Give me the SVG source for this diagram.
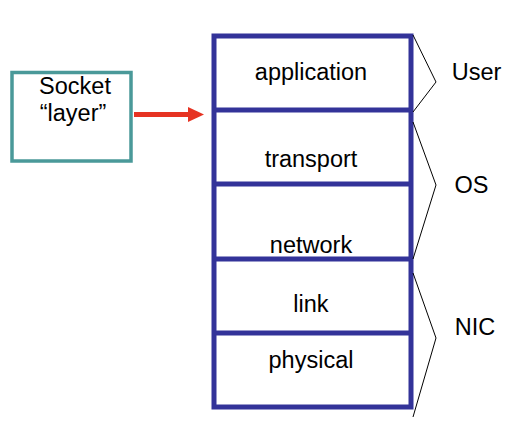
<svg xmlns="http://www.w3.org/2000/svg" width="514" height="424" viewBox="0 0 514 424">
<style>
text{font-family:"Liberation Sans",Arial,sans-serif;font-size:23.5px;fill:#000;text-anchor:middle}
.layer{fill:#fff;stroke:#333399;stroke-width:5}
.brace{fill:none;stroke:#000;stroke-width:1}
</style>
<rect width="514" height="424" fill="#fff"/>
<g id="socket">
<rect x="12" y="72.5" width="119" height="88.5" fill="#fff" stroke="#4A9999" stroke-width="3.5"/>
<text x="75" y="94">Socket</text>
<text x="73" y="121">“layer”</text>
</g>
<g id="stack">
<rect class="layer" x="214" y="36" width="197" height="371"/>
<g id="application"><line x1="214" y1="110" x2="411" y2="110" stroke="#333399" stroke-width="5"/><text x="311" y="80">application</text></g>
<g id="transport"><line x1="214" y1="184" x2="411" y2="184" stroke="#333399" stroke-width="5"/><text x="311" y="167">transport</text></g>
<g id="network"><line x1="214" y1="259" x2="411" y2="259" stroke="#333399" stroke-width="5"/><text x="311" y="253">network</text></g>
<g id="link"><line x1="214" y1="333" x2="411" y2="333" stroke="#333399" stroke-width="5"/><text x="311" y="312">link</text></g>
<g id="physical"><text x="311" y="368">physical</text></g>
</g>
<g id="connectors">
<line x1="134" y1="114.5" x2="190" y2="114.5" stroke="#E63322" stroke-width="5"/>
<polygon points="188,107 204,114.5 188,122" fill="#E63322"/>
<polyline class="brace" points="413,35 436,82 413,112"/>
<polyline class="brace" points="413,122 436,185 413,259"/>
<polyline class="brace" points="413,273 436,338 413,417"/>
</g>
<g id="labels">
<text x="476.5" y="80">User</text>
<text x="471.5" y="193">OS</text>
<text x="475" y="335">NIC</text>
</g>
</svg>
